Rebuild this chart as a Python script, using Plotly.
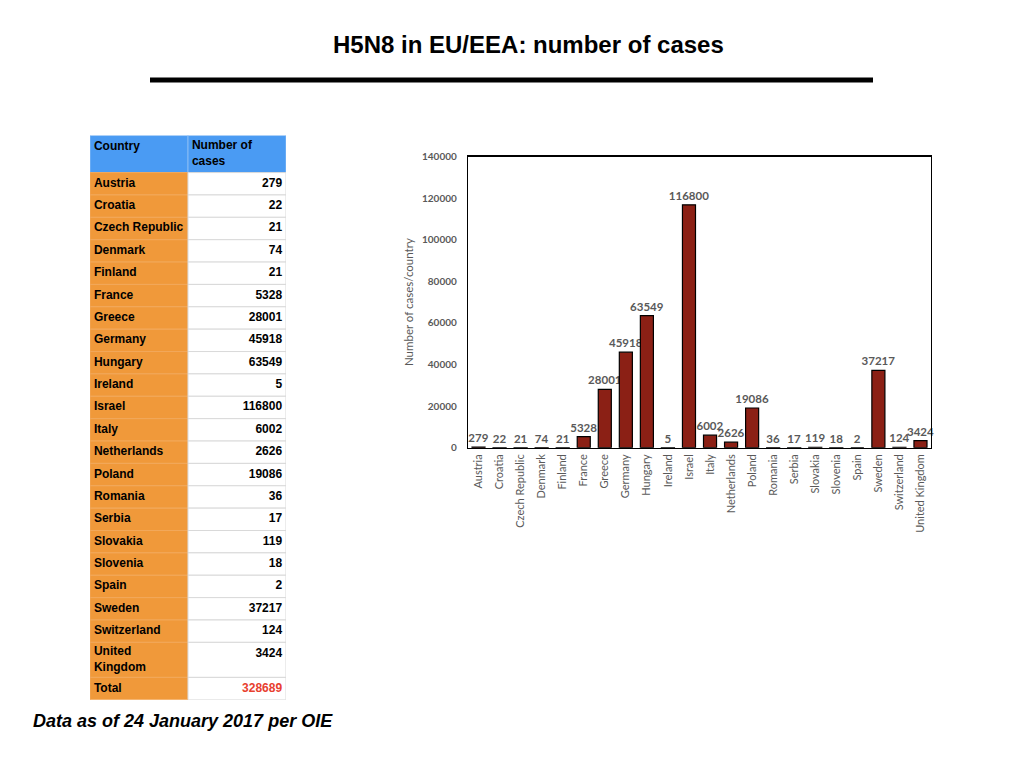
import plotly.graph_objects as go

countries = ["Austria", "Croatia", "Czech Republic", "Denmark", "Finland", "France",
             "Greece", "Germany", "Hungary", "Ireland", "Israel", "Italy", "Netherlands",
             "Poland", "Romania", "Serbia", "Slovakia", "Slovenia", "Spain", "Sweden",
             "Switzerland", "United Kingdom"]
cases = [279, 22, 21, 74, 21, 5328, 28001, 45918, 63549, 5, 116800, 6002, 2626,
         19086, 36, 17, 119, 18, 2, 37217, 124, 3424]
total_label = "Total"
total_value = 328689
table_headers = ["Country", "Number of<br>cases"]
table_wrapped = {"United Kingdom": "United<br>Kingdom"}
title_text = "H5N8 in EU/EEA: number of cases"
footnote_text = "Data as of 24 January 2017 per OIE"
y_title = "Number of cases/country"

W, H = 1024, 768
def px(x): return x / W
def py(y):
    # compensate the slight vertical squeeze seen in the rendered page
    yf = (y - 5.5) / 0.984
    return 1 - yf / H

# colours
BAR = "#8B2015"
ORANGE = "#F0993A"
BLUE = "#4A9BF3"
RED = "#E8402F"
GREY = "#595959"

fig = go.Figure()

# ---------------- Bar chart ----------------
fig.add_trace(go.Bar(
    x=countries, y=cases,
    text=[str(v) for v in cases], textposition="outside",
    constraintext="none", cliponaxis=False,
    textfont=dict(family="Lato", size=11.5, color=GREY, weight="bold"),
    marker=dict(color=BAR, line=dict(color="#000000", width=1.2)),
    showlegend=False, hoverinfo="skip",
))

# ---------------- Table (drawn as cells on its own axes) ----------------
HEADER_H = 1.655   # in units of one ordinary row
WRAP_H = 1.566
row_labels = [table_wrapped.get(c, c) for c in countries] + [total_label]
row_values = [str(v) for v in cases] + [str(total_value)]
row_heights = [WRAP_H if "<br>" in r else 1.0 for r in row_labels]

tops = [0.0]
heights = [HEADER_H] + row_heights
for h in heights[:-1]:
    tops.append(tops[-1] + h)
total_units = tops[-1] + heights[-1]
centers = [t + h / 2 for t, h in zip(tops, heights)]
nrows = len(heights)

cell_fill = [BLUE] + [ORANGE] * (nrows - 1) + [BLUE] + ["#FFFFFF"] * (nrows - 1)
cell_line = ["#86BBF5"] + ["#F2A85A"] * (nrows - 1) + ["#86BBF5"] + ["#D9D9D9"] * (nrows - 1)
fig.add_trace(go.Bar(
    orientation="h",
    x=[1] * (2 * nrows), base=[0] * nrows + [1] * nrows,
    y=centers + centers, width=heights + heights,
    marker=dict(color=cell_fill, line=dict(color=cell_line, width=1)),
    xaxis="x2", yaxis="y2", showlegend=False, hoverinfo="skip",
))

# left column texts
fig.add_trace(go.Scatter(
    x=[0.04] * nrows,
    y=[tops[0] + 0.5] + centers[1:],
    text=[table_headers[0]] + row_labels,
    mode="text", textposition="middle right",
    textfont=dict(family="Liberation Sans", size=12, color="#000000", weight="bold"),
    xaxis="x2", yaxis="y2", showlegend=False, hoverinfo="skip", cliponaxis=False,
))
# header text of the number column
fig.add_trace(go.Scatter(
    x=[1.04], y=[centers[0]],
    text=[table_headers[1]],
    mode="text", textposition="middle right",
    textfont=dict(family="Liberation Sans", size=12, color="#000000", weight="bold"),
    xaxis="x2", yaxis="y2", showlegend=False, hoverinfo="skip", cliponaxis=False,
))
# number texts (top aligned in tall rows)
fig.add_trace(go.Scatter(
    x=[1.96] * (nrows - 1),
    y=[t + 0.5 for t in tops[1:]],
    text=row_values,
    mode="text", textposition="middle left",
    textfont=dict(family="Liberation Sans", size=12, weight="bold",
                  color=["#000000"] * (nrows - 2) + [RED]),
    xaxis="x2", yaxis="y2", showlegend=False, hoverinfo="skip", cliponaxis=False,
))

fig.update_layout(
    width=W, height=H,
    margin=dict(l=0, r=0, t=0, b=0),
    paper_bgcolor="white", plot_bgcolor="rgba(0,0,0,0)",
    bargap=0.38, barmode="overlay",
    xaxis=dict(
        domain=[px(468), px(931)], anchor="y",
        tickangle=-90, showgrid=False, ticks="",
        showline=True, linecolor="black", linewidth=1.2, mirror=True,
        tickfont=dict(family="Lato", size=11, color=GREY),
        ticklabelstandoff=1, fixedrange=True,
    ),
    yaxis=dict(
        domain=[py(446), py(155)], anchor="x",
        range=[0, 140000], dtick=20000, tickformat="d",
        showgrid=False, ticks="", zeroline=False,
        showline=True, linecolor="black", linewidth=1.2, mirror=True,
        tickfont=dict(family="Lato", size=10, color=GREY, weight="bold"),
        ticklabelstandoff=8, fixedrange=True,
        title=dict(text=y_title, font=dict(family="Lato", size=11.5, color=GREY), standoff=6),
    ),
    xaxis2=dict(domain=[px(90), px(286)], anchor="y2", range=[0, 2],
                visible=False, fixedrange=True),
    yaxis2=dict(domain=[py(698), py(134)], anchor="x2", range=[total_units, 0],
                visible=False, fixedrange=True),
    annotations=[
        dict(text=f"<b>{title_text}</b>", x=px(528), y=py(43), xref="paper", yref="paper",
             showarrow=False, xanchor="center", yanchor="middle",
             font=dict(family="Liberation Sans", size=24, color="#000000")),
        dict(text=f"<b><i>{footnote_text}</i></b>", x=px(31), y=py(719), xref="paper", yref="paper",
             showarrow=False, xanchor="left", yanchor="middle",
             font=dict(family="Liberation Sans", size=18, color="#000000")),
    ],
    shapes=[
        dict(type="line", xref="paper", yref="paper", x0=px(150), x1=px(873),
             y0=py(78.5), y1=py(78.5), line=dict(color="black", width=5)),
    ],
)

fig.write_html("out.html", config={"displayModeBar": False, "staticPlot": True},
               post_script="document.body.style.margin='0';document.body.style.overflow='hidden';")
